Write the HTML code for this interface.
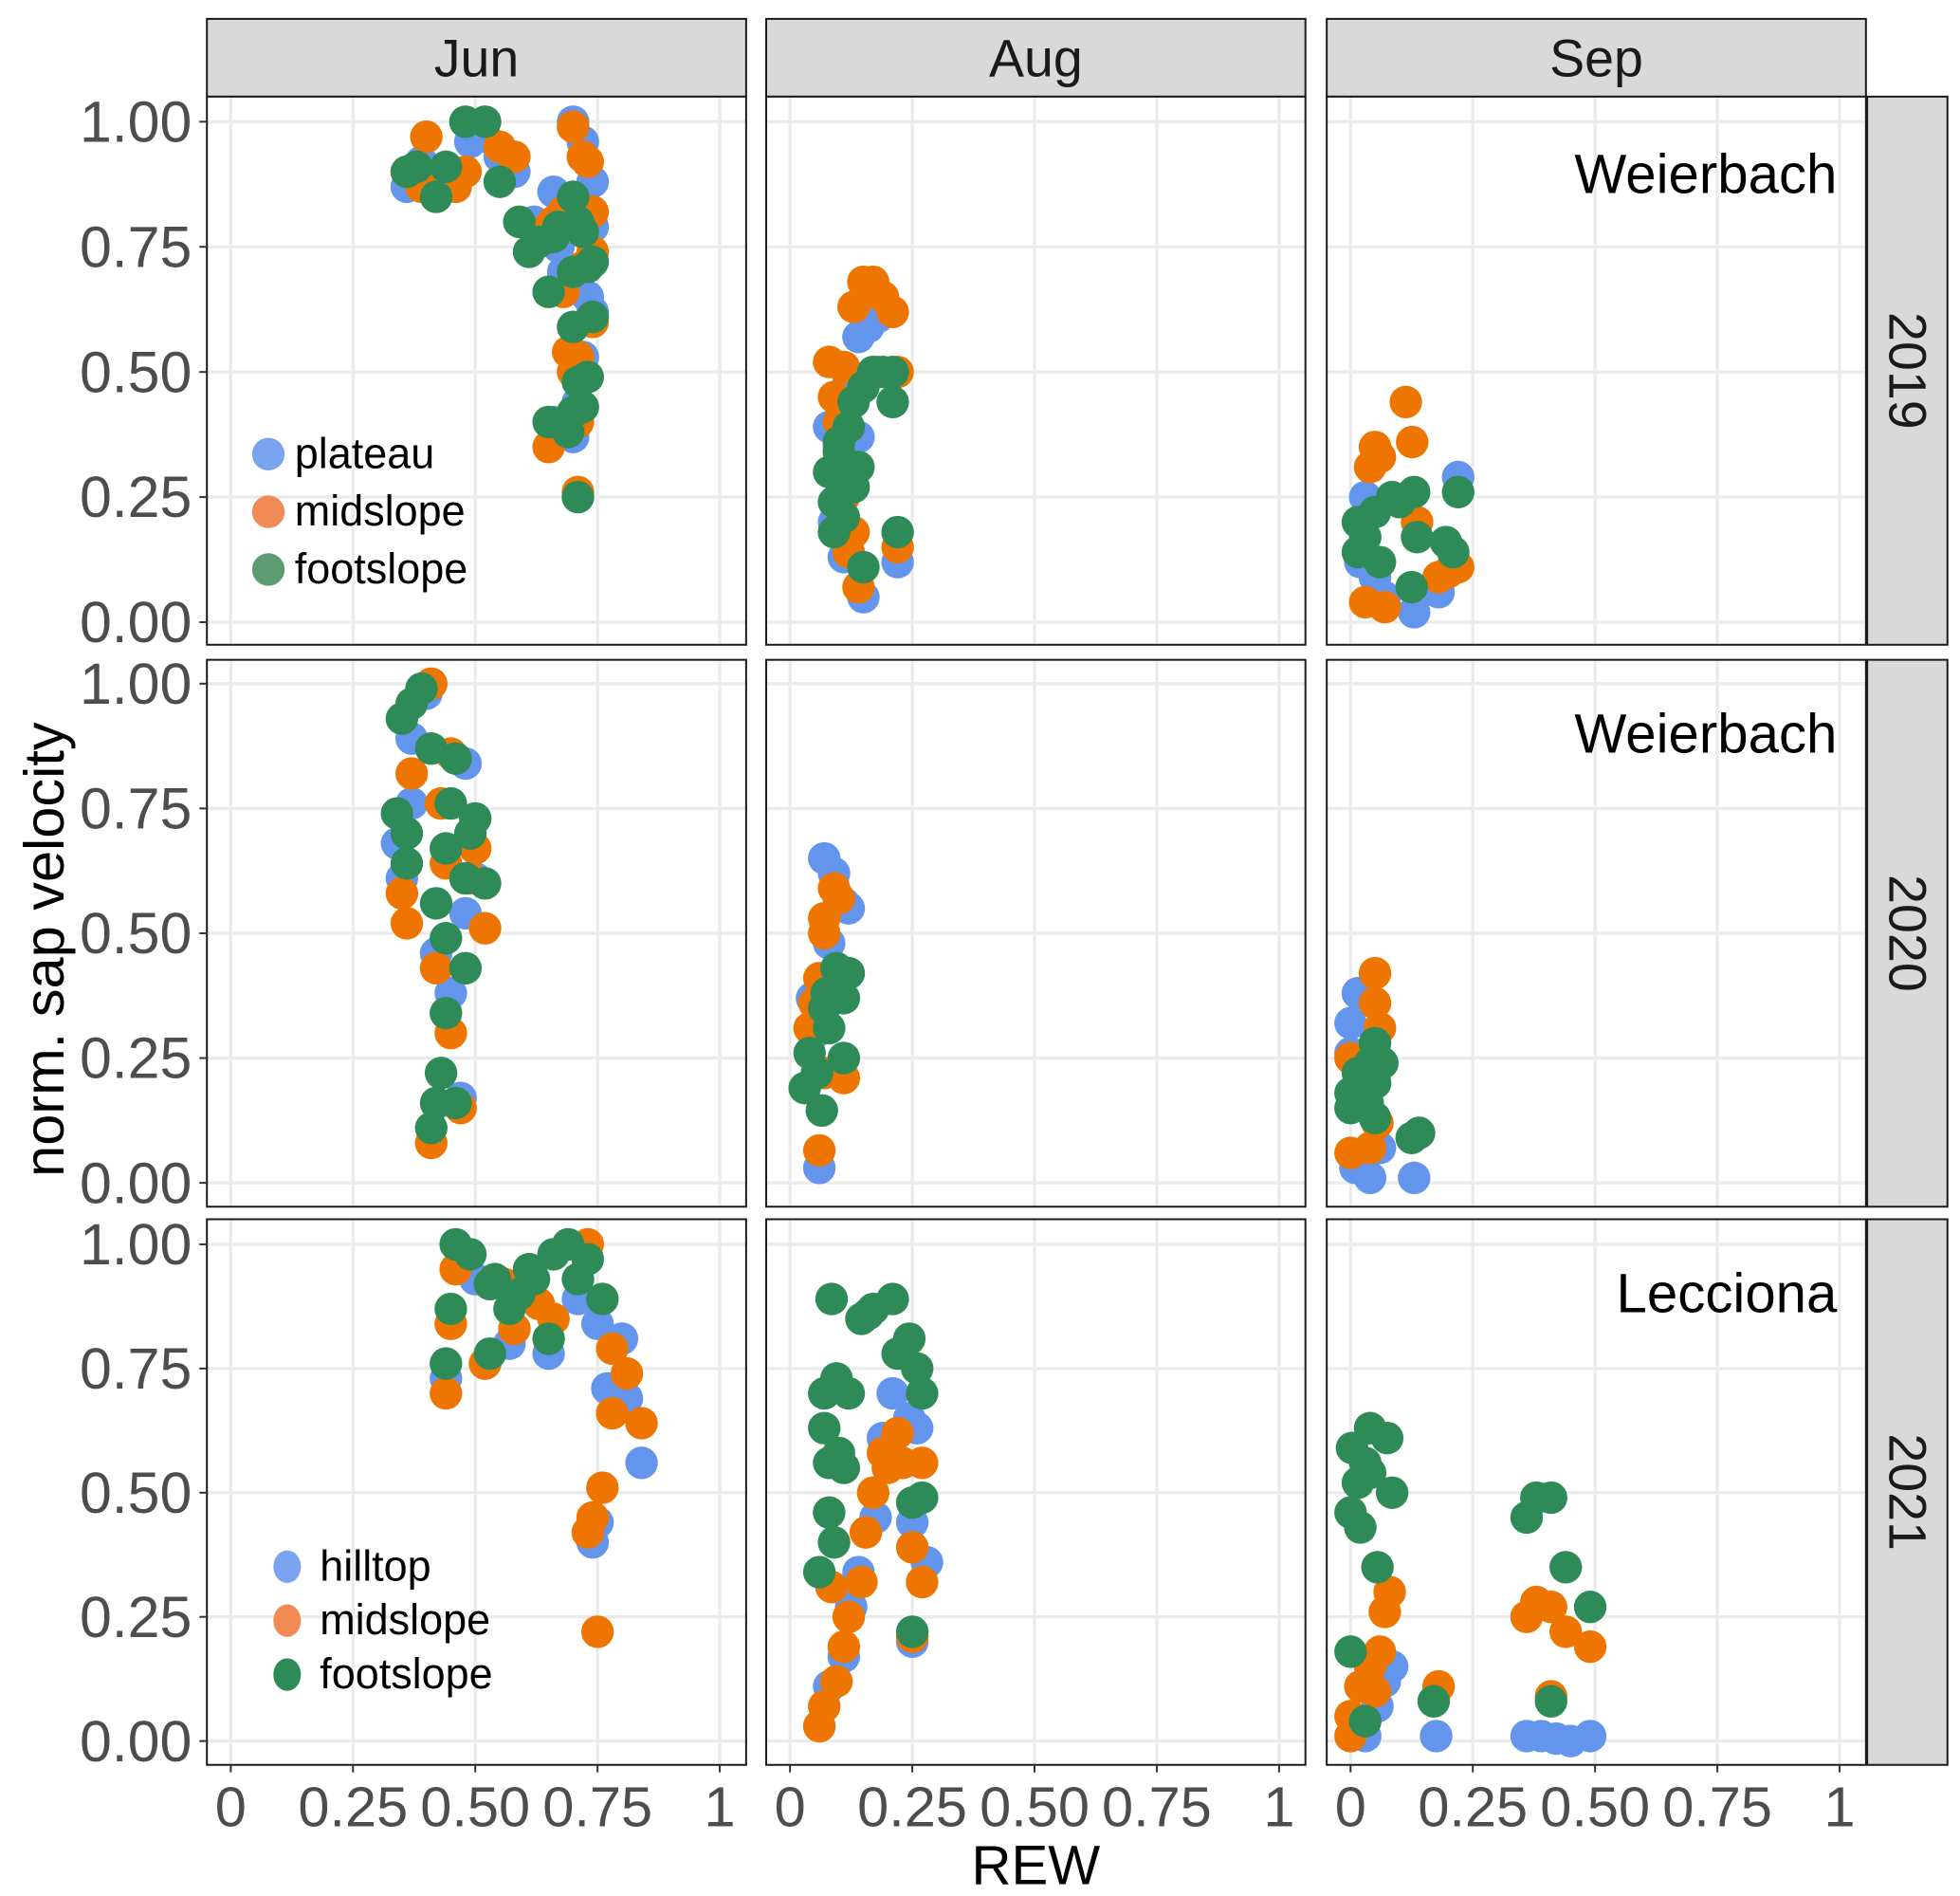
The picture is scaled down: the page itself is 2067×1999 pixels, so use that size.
<!DOCTYPE html>
<html><head><meta charset="utf-8"><style>
html,body{margin:0;padding:0;background:#fff;}
svg{display:block;}
text{font-family:"Liberation Sans",sans-serif;}
</style></head><body>
<svg id="chart" width="2067" height="1999" viewBox="0 0 1563 1511.5" xmlns="http://www.w3.org/2000/svg"></svg>
<script>
// ---- data ----
const months = ["Jun","Aug","Sep"];
const years = ["2019","2020","2021"];
const xTicks = [0,0.25,0.5,0.75,1];
const xTickLabels = ["0","0.25","0.50","0.75","1"];
const yTicks = [0,0.25,0.5,0.75,1];
const yTickLabels = ["0.00","0.25","0.50","0.75","1.00"];
const seriesColors = ["#6495ED","#EE7600","#2E8B57"];
const jun2019Blue = [[.36,.87],[.39,.92],[.42,.85],[.49,.96],[.52,.97],[.55,.93],[.58,.90],[.62,.80],[.64,.78],[.66,.86],[.67,.75],[.68,.70],[.70,1.0],[.71,.83],[.72,.96],[.74,.88],[.74,.79],[.73,.65],[.74,.62],[.72,.53],[.71,.44],[.70,.37],[.69,.40],[.66,.40]];
const jun2019Orange = [[.36,.90],[.40,.97],[.39,.87],[.46,.87],[.48,.90],[.55,.95],[.58,.93],[.64,.78],[.68,.82],[.70,.99],[.72,.93],[.73,.92],[.74,.82],[.74,.74],[.72,.71],[.68,.66],[.69,.54],[.71,.53],[.70,.50],[.74,.60],[.71,.40],[.65,.35],[.71,.26],[.66,.80]];
const jun2019Green = [[.36,.90],[.38,.91],[.42,.85],[.44,.91],[.48,1.0],[.52,1.0],[.55,.88],[.59,.80],[.61,.74],[.63,.76],[.66,.77],[.67,.79],[.70,.85],[.71,.80],[.72,.78],[.70,.70],[.74,.72],[.73,.71],[.65,.66],[.70,.59],[.74,.61],[.71,.48],[.73,.49],[.70,.42],[.72,.43],[.65,.40],[.69,.38],[.71,.25]];
const aug2019Blue = [[.14,.57],[.16,.59],[.18,.61],[.08,.39],[.10,.35],[.12,.30],[.09,.20],[.11,.13],[.15,.05],[.22,.12],[.12,.48],[.14,.37],[.18,.50]];
const aug2019Orange = [[.15,.68],[.17,.68],[.19,.65],[.21,.62],[.13,.63],[.08,.52],[.11,.51],[.09,.45],[.22,.50],[.10,.40],[.12,.30],[.11,.25],[.13,.18],[.14,.07],[.22,.15],[.12,.14]];
const aug2019Green = [[.08,.30],[.10,.34],[.12,.39],[.13,.44],[.15,.47],[.17,.50],[.19,.50],[.21,.50],[.21,.44],[.22,.18],[.15,.11],[.09,.24],[.11,.21],[.12,.29],[.10,.36],[.09,.18],[.13,.27],[.14,.31]];
const sep2019Blue = [[.22,.29],[.05,.09],[.13,.02],[.18,.06],[.03,.25],[.02,.12],[.07,.05]];
const sep2019Orange = [[.113,.44],[.126,.36],[.05,.35],[.04,.31],[.136,.20],[.2,.10],[.18,.09],[.03,.04],[.07,.03],[.22,.11],[.06,.33]];
const sep2019Green = [[.22,.26],[.13,.26],[.085,.25],[.05,.22],[.015,.20],[.015,.14],[.06,.12],[.125,.07],[.195,.16],[.21,.14],[.136,.17],[.03,.17],[.1,.24]];
const jun2020Blue = [[.37,.89],[.40,.98],[.35,.61],[.37,.76],[.48,.84],[.48,.54],[.45,.38],[.47,.17],[.50,.61],[.42,.46],[.34,.68]];
const jun2020Orange = [[.41,1.0],[.37,.82],[.35,.58],[.36,.52],[.43,.76],[.50,.67],[.52,.51],[.45,.30],[.42,.43],[.41,.08],[.47,.15],[.45,.86],[.49,.61],[.44,.64]];
const jun2020Green = [[.39,.99],[.35,.93],[.41,.87],[.34,.74],[.36,.70],[.36,.64],[.42,.56],[.44,.67],[.45,.76],[.46,.85],[.49,.70],[.50,.73],[.52,.60],[.48,.61],[.44,.49],[.48,.43],[.44,.34],[.43,.22],[.42,.16],[.41,.11],[.46,.16],[.37,.96]];
const aug2020Blue = [[.07,.65],[.09,.62],[.11,.56],[.12,.55],[.045,.37],[.06,.03],[.08,.48],[.05,.30]];
const aug2020Orange = [[.09,.59],[.10,.57],[.07,.53],[.06,.41],[.04,.31],[.07,.22],[.11,.21],[.06,.065],[.07,.50],[.05,.36]];
const aug2020Green = [[.095,.43],[.12,.42],[.075,.38],[.11,.37],[.04,.26],[.03,.19],[.065,.145],[.055,.22],[.11,.25],[.08,.31],[.07,.35]];
const sep2020Blue = [[.015,.38],[0,.32],[.01,.03],[.04,.01],[.13,.01],[.05,.20],[0,.26],[.06,.07]];
const sep2020Orange = [[.05,.42],[.05,.36],[0,.06],[.04,.07],[.14,.10],[.06,.31],[0,.25],[.055,.12]];
const sep2020Green = [[.05,.28],[0,.18],[.015,.22],[.035,.16],[.05,.13],[.125,.09],[.14,.10],[.04,.24],[.065,.24],[.05,.20],[0,.15]];
const jun2021Blue = [[.44,.73],[.52,.76],[.57,.80],[.65,.78],[.71,.89],[.75,.84],[.80,.81],[.77,.71],[.81,.69],[.84,.56],[.74,.40],[.75,.44],[.50,.93]];
const jun2021Orange = [[.46,.95],[.45,.84],[.44,.70],[.52,.76],[.56,.92],[.63,.88],[.66,.85],[.73,1.0],[.78,.79],[.81,.74],[.78,.66],[.84,.64],[.76,.51],[.74,.45],[.73,.42],[.75,.22],[.58,.83]];
const jun2021Green = [[.46,1.0],[.49,.98],[.54,.93],[.61,.95],[.66,.98],[.69,1.0],[.73,.97],[.76,.89],[.53,.92],[.57,.87],[.45,.87],[.44,.76],[.53,.78],[.65,.81],[.62,.93],[.71,.93],[.59,.90]];
const aug2021Blue = [[.21,.70],[.244,.65],[.26,.63],[.19,.61],[.175,.45],[.14,.34],[.125,.27],[.11,.17],[.08,.11],[.06,.03],[.28,.36],[.25,.44],[.25,.20]];
const aug2021Orange = [[.17,.50],[.22,.62],[.23,.56],[.27,.56],[.155,.42],[.146,.32],[.12,.25],[.11,.19],[.095,.12],[.07,.07],[.06,.03],[.25,.39],[.27,.32],[.25,.21],[.085,.31],[.20,.55],[.19,.58]];
const aug2021Green = [[.085,.89],[.146,.85],[.17,.87],[.21,.89],[.22,.78],[.244,.81],[.26,.75],[.27,.70],[.095,.73],[.12,.70],[.07,.70],[.07,.63],[.10,.58],[.08,.56],[.08,.46],[.09,.40],[.06,.34],[.27,.49],[.25,.48],[.25,.22],[.16,.86],[.11,.55]];
const sep2021Blue = [[.085,.15],[.055,.07],[.03,.01],[.175,.01],[.36,.01],[.39,.01],[.42,.005],[.45,0],[.49,.01],[.07,.12]];
const sep2021Orange = [[.08,.30],[.07,.26],[.06,.18],[.04,.15],[.02,.11],[0,.05],[0,.01],[.18,.11],[.36,.25],[.38,.28],[.41,.27],[.44,.22],[.49,.19],[.41,.09],[.05,.10]];
const sep2021Green = [[.04,.63],[.075,.61],[.003,.59],[.015,.52],[.04,.54],[.085,.50],[.02,.43],[.055,.35],[0,.18],[.36,.45],[.38,.49],[.41,.49],[.44,.35],[.49,.27],[.03,.04],[.17,.08],[.41,.08],[0,.46],[.03,.56]];
const panelData = [
 [[jun2019Blue,jun2019Orange,jun2019Green],[aug2019Blue,aug2019Orange,aug2019Green],[sep2019Blue,sep2019Orange,sep2019Green]],
 [[jun2020Blue,jun2020Orange,jun2020Green],[aug2020Blue,aug2020Orange,aug2020Green],[sep2020Blue,sep2020Orange,sep2020Green]],
 [[jun2021Blue,jun2021Orange,jun2021Green],[aug2021Blue,aug2021Orange,aug2021Green],[sep2021Blue,sep2021Orange,sep2021Green]]
];
const siteLabels = ["Weierbach","Weierbach","Lecciona"];
const legend1 = ["plateau","midslope","footslope"];
const legend2 = ["hilltop","midslope","footslope"];

// ---- layout ----
const NS="http://www.w3.org/2000/svg";
const svg=document.getElementById('chart');
const colL=[165,611,1058], colW=430;
const rowT=[77,526,972], rowH=[437,436,435];
const y0s=[496,943,1388], y1s=[97,545,992];
const x0off=19, xUnit=390;
function xs(c,v){return colL[c]+x0off+v*xUnit;}
function ys(r,v){return y0s[r]-v*(y0s[r]-y1s[r]);}
function mk(tag,attrs,parent){const e=document.createElementNS(NS,tag);for(const k in attrs)e.setAttribute(k,attrs[k]);(parent||svg).appendChild(e);return e;}
function txt(s,attrs,parent){const e=mk('text',attrs,parent);e.textContent=s;return e;}

for(let c=0;c<3;c++){
  const s=mk('rect',{x:colL[c],y:15,width:colW,height:62,fill:'#D9D9D9',stroke:'#1a1a1a','stroke-width':1.5});
  
  
  const t=txt(months[c],{x:colL[c]+colW/2,y:61,'text-anchor':'middle','font-size':42,fill:'#1a1a1a'});
  
  
}
for(let r=0;r<3;r++){
  const s=mk('rect',{x:1489,y:rowT[r],width:64,height:rowH[r],fill:'#D9D9D9',stroke:'#1a1a1a','stroke-width':1.5});
  
  
  const cy=rowT[r]+rowH[r]/2, cx=1521;
  const t=txt(years[r],{x:cx,y:cy,'text-anchor':'middle','dominant-baseline':'central','font-size':42,fill:'#1a1a1a',transform:`rotate(90 ${cx} ${cy})`});
  
  
}
for(let r=0;r<3;r++){
  for(let c=0;c<3;c++){
    const g=mk('g',{});
    
    
    mk('rect',{x:colL[c],y:rowT[r],width:colW,height:rowH[r],fill:'#fff'},g);
    for(const v of xTicks){const x=xs(c,v);const l=mk('line',{x1:x,x2:x,y1:rowT[r],y2:rowT[r]+rowH[r],stroke:'#EBEBEB','stroke-width':2.5},g);
      
      }
    for(const v of yTicks){const y=ys(r,v);const l=mk('line',{x1:colL[c],x2:colL[c]+colW,y1:y,y2:y,stroke:'#EBEBEB','stroke-width':2.5},g);
      
      }
    for(let s=0;s<3;s++){
      for(const p of panelData[r][c][s]){
        const ci=mk('circle',{cx:xs(c,p[0]),cy:ys(r,p[1]),r:13,fill:seriesColors[s]},g);
        
        
      }
    }
    mk('rect',{x:colL[c],y:rowT[r],width:colW,height:rowH[r],fill:'none',stroke:'#1a1a1a','stroke-width':1.5},g);
  }
  for(let i=0;i<yTicks.length;i++){
    const y=ys(r,yTicks[i]);
    mk('line',{x1:159,x2:165,y1:y,y2:y,stroke:'#333','stroke-width':1.5});
    const t=txt(yTickLabels[i],{x:153,y:y+16,'text-anchor':'end','font-size':46,fill:'#4D4D4D'});
    
    
  }
  const a=txt(siteLabels[r],{x:1465,y:[154,600,1046][r],'text-anchor':'end','font-size':44,fill:'#000'});
  
  
}
for(let c=0;c<3;c++){
  for(let i=0;i<xTicks.length;i++){
    const x=xs(c,xTicks[i]);
    mk('line',{x1:x,x2:x,y1:1407,y2:1413,stroke:'#333','stroke-width':1.5});
    const t=txt(xTickLabels[i],{x:x,y:1456,'text-anchor':'middle','font-size':45,fill:'#4D4D4D'});
    
    
  }
}
const xt=txt('REW',{x:826,y:1502,'text-anchor':'middle','font-size':44,fill:'#000'});


const yt=txt('norm. sap velocity',{x:35,y:757,'text-anchor':'middle','dominant-baseline':'central','font-size':45,fill:'#000',transform:'rotate(-90 35 757)'});


const lg1=mk('g',{});


const lightCols=["#7BA4F0","#F08B55","#5E9A72"];
for(let i=0;i<3;i++){
  const y=362+i*46;
  mk('circle',{cx:214,cy:y,r:13,fill:lightCols[i]},lg1);
  const t=txt(legend1[i],{x:235,y:y+11,'font-size':34,fill:'#000'},lg1);
  
  
}
const lg2=mk('g',{});


const cols2=["#7BA4F0","#F08B55","#2E8B57"];
for(let i=0;i<3;i++){
  const y=1249+i*43;
  mk('ellipse',{cx:229,cy:y,rx:11,ry:13,fill:cols2[i]},lg2);
  const t=txt(legend2[i],{x:255,y:y+11,'font-size':34,fill:'#000'},lg2);
  
  
}
</script>
</body></html>
